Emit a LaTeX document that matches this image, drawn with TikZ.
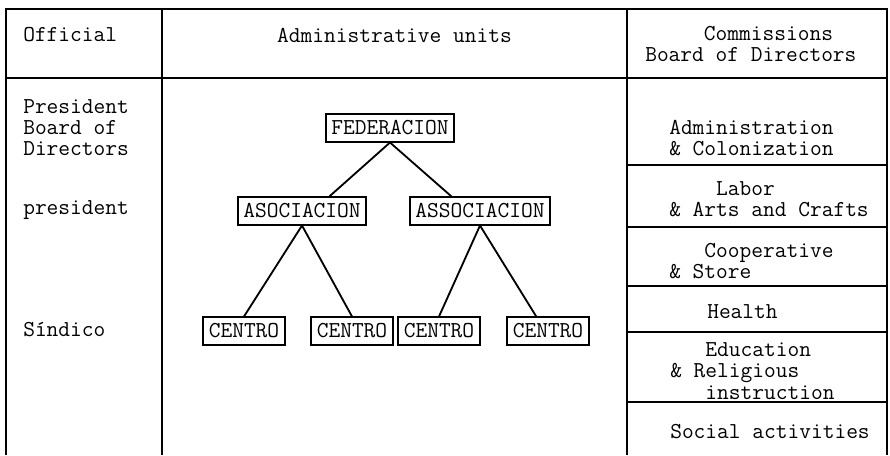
\documentclass[tikz,border=0pt]{standalone}
\usepackage{fontspec}
\usepackage{tikz}
\usetikzlibrary{positioning}

\begin{document}
\begin{tikzpicture}
[x=0.025cm,y=-0.025cm,
rule/.style={line width=1.3pt},
txt/.style={anchor=west,align=left,inner sep=0pt,font=\ttfamily\fontsize{16.2}{15}\selectfont},
unit/.style={draw,line width=1.3pt,inner xsep=4pt,inner ysep=0pt,minimum height=0.68cm,font=\ttfamily\fontsize{16.2}{15}\selectfont}]
\useasboundingbox (0,0) rectangle (890,455);

% table frame
\draw [rule] (6,455) -- (6,9) -- (887,9) -- (887,455);
\draw [rule] (162,9) -- (162,455);
\draw [rule] (627,9) -- (627,455);
\draw [rule] (6,78) -- (887,78);
\foreach \y in {165,227,286,332,402}
  \draw [rule] (627,\y) -- (887,\y);

% headings
\node[txt] (official) at (23,35) {Official};
\node[txt,anchor=center] (units) at (394.5,35) {Administrative units};
\node[txt] (commissions) at (645,44) {\phantom{00000}Commissions\\Board of Directors};

% officials
\node[txt] (presboard) at (23,128) {President\\Board of\\Directors};
\node[txt] (pres) at (23,210) {president};
\node[txt] (sindico) at (23,330) {Síndico};

% units
\node[unit] (fed) at (390,128) {FEDERACION};
\node[unit] (asoc1) at (302,211) {ASOCIACION};
\node[unit] (asoc2) at (480,211) {ASSOCIACION};
\node[unit] (c1) at (244,331) {CENTRO};
\node[unit] (c2) at (352,331) {CENTRO};
\node[unit] (c3) at (439,331) {CENTRO};
\node[unit] (c4) at (548,331) {CENTRO};

\draw [-,rule] (fed.south) -- (asoc1.28);
\draw [-,rule] (fed.south) -- (asoc2.153);
\draw [-,rule] (asoc1.south) -- (c1.north);
\draw [-,rule] (asoc1.south) -- (c2.north);
\draw [-,rule] (asoc2.south) -- (c3.north);
\draw [-,rule] (asoc2.south) -- (c4.129);

% commissions
\node[txt] (admin) at (669,138) {Administration\\\& Colonization};
\node[txt] (labor) at (669,199) {\phantom{0000}Labor\\\& Arts and Crafts};
\node[txt] (coop) at (669,261) {\phantom{000}Cooperative\\\& Store};
\node[txt] (health) at (707,312) {Health};
\node[txt] (educ) at (670,371) {\phantom{000}Education\\\& Religious\\\phantom{000}instruction};
\node[txt] (social) at (670,432) {Social activities};
\end{tikzpicture}
\end{document}
